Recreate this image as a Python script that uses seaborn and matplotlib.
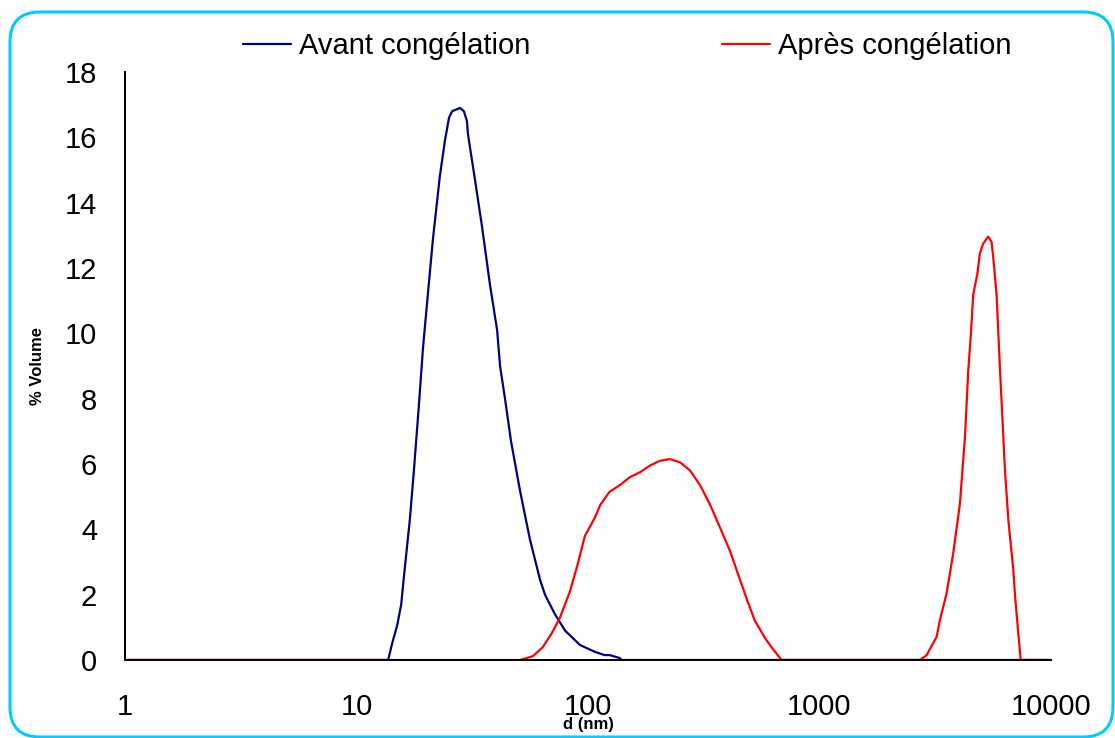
"""
Distribution granulométrique (% volume) avant / après congélation.
"""

import matplotlib.pyplot as plt
import matplotlib.patches as mpatches
from matplotlib.transforms import IdentityTransform
import pandas as pd
import seaborn as sns

OUTPUT = "out.png"

# Avant congélation (d en nm, % volume)
D_AVANT = [1, 13.7, 14.2, 15.0, 15.6, 16.0, 17.0, 17.7, 18.6, 19.4, 20.4, 21.4,
           22.9, 24.1, 25.1, 25.9, 28.0, 29.1, 30.0, 30.3, 32.5, 34.8, 37.7,
           40.5, 41.7, 43.8, 46.5, 50.8, 56.1, 62.1, 65.2, 72.0, 79.6, 92.3,
           107, 118, 124, 137, 140, 10000]
V_AVANT = [0, 0, 0.46, 1.07, 1.7, 2.5, 4.3, 5.8, 7.8, 9.6, 11.3, 12.9,
           14.8, 15.9, 16.6, 16.8, 16.9, 16.8, 16.5, 16.1, 14.7, 13.3, 11.5,
           10.1, 9.0, 8.0, 6.7, 5.2, 3.7, 2.45, 2.0, 1.4, 0.9, 0.46,
           0.25, 0.15, 0.15, 0.06, 0, 0]

# Après congélation
D_APRES = [1, 50.9, 57.9, 63.9, 69.9, 75.7, 83.6, 89.6, 97.0, 107, 113, 124,
           137, 152, 168, 185, 205, 226, 250, 276, 305, 337, 372, 410, 454,
           486, 526, 582, 624, 675, 689,
           2717, 2904, 3206, 3313, 3540, 3782, 4044, 4250, 4393, 4500, 4616,
           4802, 4930, 5096, 5355, 5536, 5626, 5818, 6023, 6327, 6545, 6875,
           6998, 7395, 10000]
V_APRES = [0, 0, 0.12, 0.4, 0.83, 1.3, 2.1, 2.85, 3.8, 4.35, 4.75, 5.15,
           5.35, 5.6, 5.75, 5.95, 6.1, 6.15, 6.05, 5.8, 5.35, 4.75, 4.05, 3.35, 2.45,
           1.85, 1.2, 0.67, 0.37, 0.06, 0,
           0, 0.15, 0.71, 1.22, 2.04, 3.27, 4.8, 6.83, 8.88, 9.9, 11.2,
           11.8, 12.45, 12.75, 12.96, 12.8, 12.35, 11.2, 8.88, 5.8, 4.28, 2.75,
           1.94, 0, 0]

X_TICKS = [1, 10, 100, 1000, 10000]
Y_TICKS = list(range(0, 19, 2))


def main():
    sns.set_style("white")
    plt.rcParams["font.family"] = ["Liberation Sans", "DejaVu Sans"]
    plt.rcParams["text.color"] = "black"
    plt.rcParams["axes.labelcolor"] = "black"
    plt.rcParams["xtick.color"] = "black"
    plt.rcParams["ytick.color"] = "black"

    avant = pd.DataFrame({"d": D_AVANT, "v": V_AVANT})
    apres = pd.DataFrame({"d": D_APRES, "v": V_APRES})

    fig = plt.figure(figsize=(11.15, 7.38), dpi=100)
    ax = fig.add_axes([0.1121, 0.1057, 0.8305, 0.7967])

    sns.lineplot(data=avant, x="d", y="v", color="#000080", lw=1.6,
                 label="Avant congélation", ax=ax)
    sns.lineplot(data=apres, x="d", y="v", color="#FF0000", lw=1.6,
                 label="Après congélation", ax=ax)

    ax.set_xscale("log")
    ax.set_xlim(1, 10000)
    ax.set_ylim(0, 18)
    ax.set_xticks(X_TICKS)
    ax.set_xticklabels([str(t) for t in X_TICKS])
    ax.minorticks_off()
    ax.set_yticks(Y_TICKS)
    ax.tick_params(axis="both", labelsize=21, direction="out", length=8,
                   width=1.2, colors="black")
    ax.tick_params(axis="y", pad=12)
    ax.tick_params(axis="x", pad=16)

    for side in ["top", "right"]:
        ax.spines[side].set_visible(False)
    for side in ["left", "bottom"]:
        ax.spines[side].set_color("black")
        ax.spines[side].set_linewidth(1.4)

    ax.set_xlabel("d (nm)", fontsize=12, fontweight="bold", va="center")
    ax.xaxis.set_label_coords(0.5, -0.11)
    ax.set_ylabel("% Volume", fontsize=12, fontweight="bold", va="center")
    ax.yaxis.set_label_coords(-0.095, 0.5)

    leg = ax.legend(loc="center", bbox_to_anchor=(0.5625, 0.937),
                    bbox_transform=fig.transFigure, ncol=2, frameon=False,
                    fontsize=21, handlelength=1.64, handletextpad=0.27,
                    columnspacing=6.6)
    for txt in leg.get_texts():
        txt.set_color("black")

    # cadre arrondi autour du graphique
    cadre = mpatches.FancyBboxPatch(
        (10, 1), 1103, 725, boxstyle="round,pad=0,rounding_size=30",
        transform=IdentityTransform(), fill=False, edgecolor="#00CCFF",
        linewidth=2.2, clip_on=False,
    )
    fig.add_artist(cadre)

    plt.savefig(OUTPUT, dpi=100)
    plt.close()


if __name__ == "__main__":
    main()
